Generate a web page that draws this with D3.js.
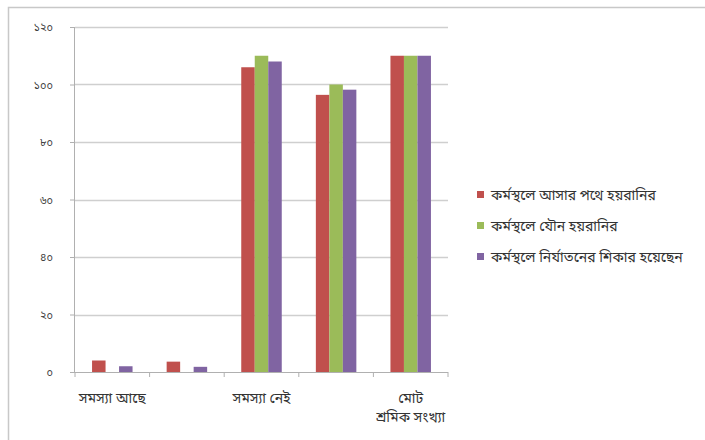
<!DOCTYPE html>
<html>
<head>
<meta charset="utf-8">
<script src="https://cdn.jsdelivr.net/npm/d3@7"></script>
<style>
  html, body { margin: 0; padding: 0; background: #ffffff; }
  svg { display: block; }
  text { font-family: "Noto Sans Bengali", "Noto Sans", "DejaVu Sans", sans-serif; }
</style>
</head>
<body>
<svg id="chart" width="705" height="440"></svg>
<script>
// Category labels (only every other one is printed under the axis)
const categories = ["সমস্যা আছে", "সমস্যা আছে (%)", "সমস্যা নেই", "সমস্যা নেই (%)", "মোট শ্রমিক সংখ্যা"];
const showLabel = [true, false, true, false, true];

// Series
const seriesNames = [
  "কর্মস্থলে আসার পথে হয়রানির",
  "কর্মস্থলে যৌন হয়রানির",
  "কর্মস্থলে নির্যাতনের শিকার হয়েছেন"
];
const seriesA = [4, 3.6, 106, 96.4, 110];
const seriesB = [0, 0, 110, 100, 110];
const seriesC = [2, 1.8, 108, 98.2, 110];
const seriesColors = ["#C0504D", "#9BBB59", "#8064A2"];

// Y axis ticks
const yTicks = [0, 20, 40, 60, 80, 100, 120];
const bnDigits = ["০", "১", "২", "৩", "৪", "৫", "৬", "৭", "৮", "৯"];
const toBn = n => String(n).replace(/\d/g, d => bnDigits[+d]);

const svg = d3.select("#chart");

// Outer chart border
svg.append("rect")
  .attr("x", 8.5).attr("y", 7.5)
  .attr("width", 720).attr("height", 450)
  .attr("fill", "none").attr("stroke", "#c8c8c8").attr("stroke-width", 1.5);

const plot = { left: 75, right: 448, top: 27, bottom: 372 };

const x0 = d3.scaleBand()
  .domain(d3.range(categories.length))
  .range([plot.left, plot.right])
  .paddingInner(0).paddingOuter(0);

const y = d3.scaleLinear().domain([0, 120]).range([plot.bottom, plot.top]);

const barW = 13.5;
const x1 = d3.scaleBand()
  .domain(d3.range(seriesNames.length))
  .range([0, barW * 3]);

// Gridlines
svg.append("g")
  .selectAll("line")
  .data(yTicks.filter(t => t > 0))
  .join("line")
  .attr("x1", plot.left).attr("x2", plot.right)
  .attr("y1", d => Math.round(y(d)) + 0.5).attr("y2", d => Math.round(y(d)) + 0.5)
  .attr("stroke", "#cfcfcf").attr("stroke-width", 1.4);

// Y axis
const yAxis = d3.axisLeft(y)
  .tickValues(yTicks)
  .tickSize(5)
  .tickPadding(17)
  .tickFormat(toBn);
const gy = svg.append("g").attr("transform", `translate(${plot.left},0)`).call(yAxis);
gy.select(".domain").attr("stroke", "#b0b0b0").attr("d", `M-0.5,${plot.bottom}V${plot.top}`);
gy.selectAll(".tick line").attr("stroke", "#b0b0b0");
gy.selectAll(".tick text").attr("fill", "#404040").style("font-size", "11px");

// Bars
const series = [seriesA, seriesB, seriesC];
const groups = svg.append("g")
  .selectAll("g")
  .data(categories.map((c, i) => i))
  .join("g")
  .attr("transform", i => `translate(${x0(i) + (x0.bandwidth() - barW * 3) / 2},0)`);

groups.selectAll("rect")
  .data(i => series.map((s, k) => ({ k, v: s[i] })))
  .join("rect")
  .attr("x", d => x1(d.k))
  .attr("width", barW)
  .attr("y", d => y(d.v))
  .attr("height", d => y(0) - y(d.v))
  .attr("fill", d => seriesColors[d.k]);

// X axis
const xAxis = d3.axisBottom(x0)
  .tickSize(0)
  .tickFormat("");
const gx = svg.append("g").attr("transform", `translate(0,${plot.bottom})`).call(xAxis);
gx.select(".domain").attr("stroke", "#b0b0b0").attr("d", `M${plot.left - 5},0.5H${plot.right}`);

// Category boundary ticks
svg.append("g")
  .selectAll("line")
  .data(d3.range(categories.length + 1))
  .join("line")
  .attr("x1", i => (i < categories.length ? x0(i) : plot.right))
  .attr("x2", i => (i < categories.length ? x0(i) : plot.right))
  .attr("y1", plot.bottom).attr("y2", plot.bottom + 5)
  .attr("stroke", "#b0b0b0");

// Category labels (long ones wrap onto two lines)
const labelG = svg.append("g");
categories.forEach((c, i) => {
  if (!showLabel[i]) return;
  const cx = x0(i) + x0.bandwidth() / 2;
  const words = c.split(" ");
  const lines = words.length > 2 ? [words[0], words.slice(1).join(" ")] : [c];
  const t = labelG.append("text")
    .attr("x", cx).attr("y", 403)
    .attr("text-anchor", "middle")
    .attr("fill", "#333333")
    .style("font-size", "14px");
  lines.forEach((ln, j) => {
    t.append("tspan").attr("x", cx).attr("dy", j === 0 ? 0 : 19).text(ln);
  });
});

// Legend
const legend = svg.append("g").attr("transform", "translate(477,195)");
seriesNames.forEach((name, k) => {
  const g = legend.append("g").attr("transform", `translate(0,${k * 31})`);
  g.append("rect").attr("x", 0).attr("y", -4).attr("width", 7).attr("height", 7)
    .attr("fill", seriesColors[k]);
  g.append("text").attr("x", 14).attr("y", 4.5)
    .attr("fill", "#333333").style("font-size", "14px").text(name);
});
</script>
</body>
</html>
